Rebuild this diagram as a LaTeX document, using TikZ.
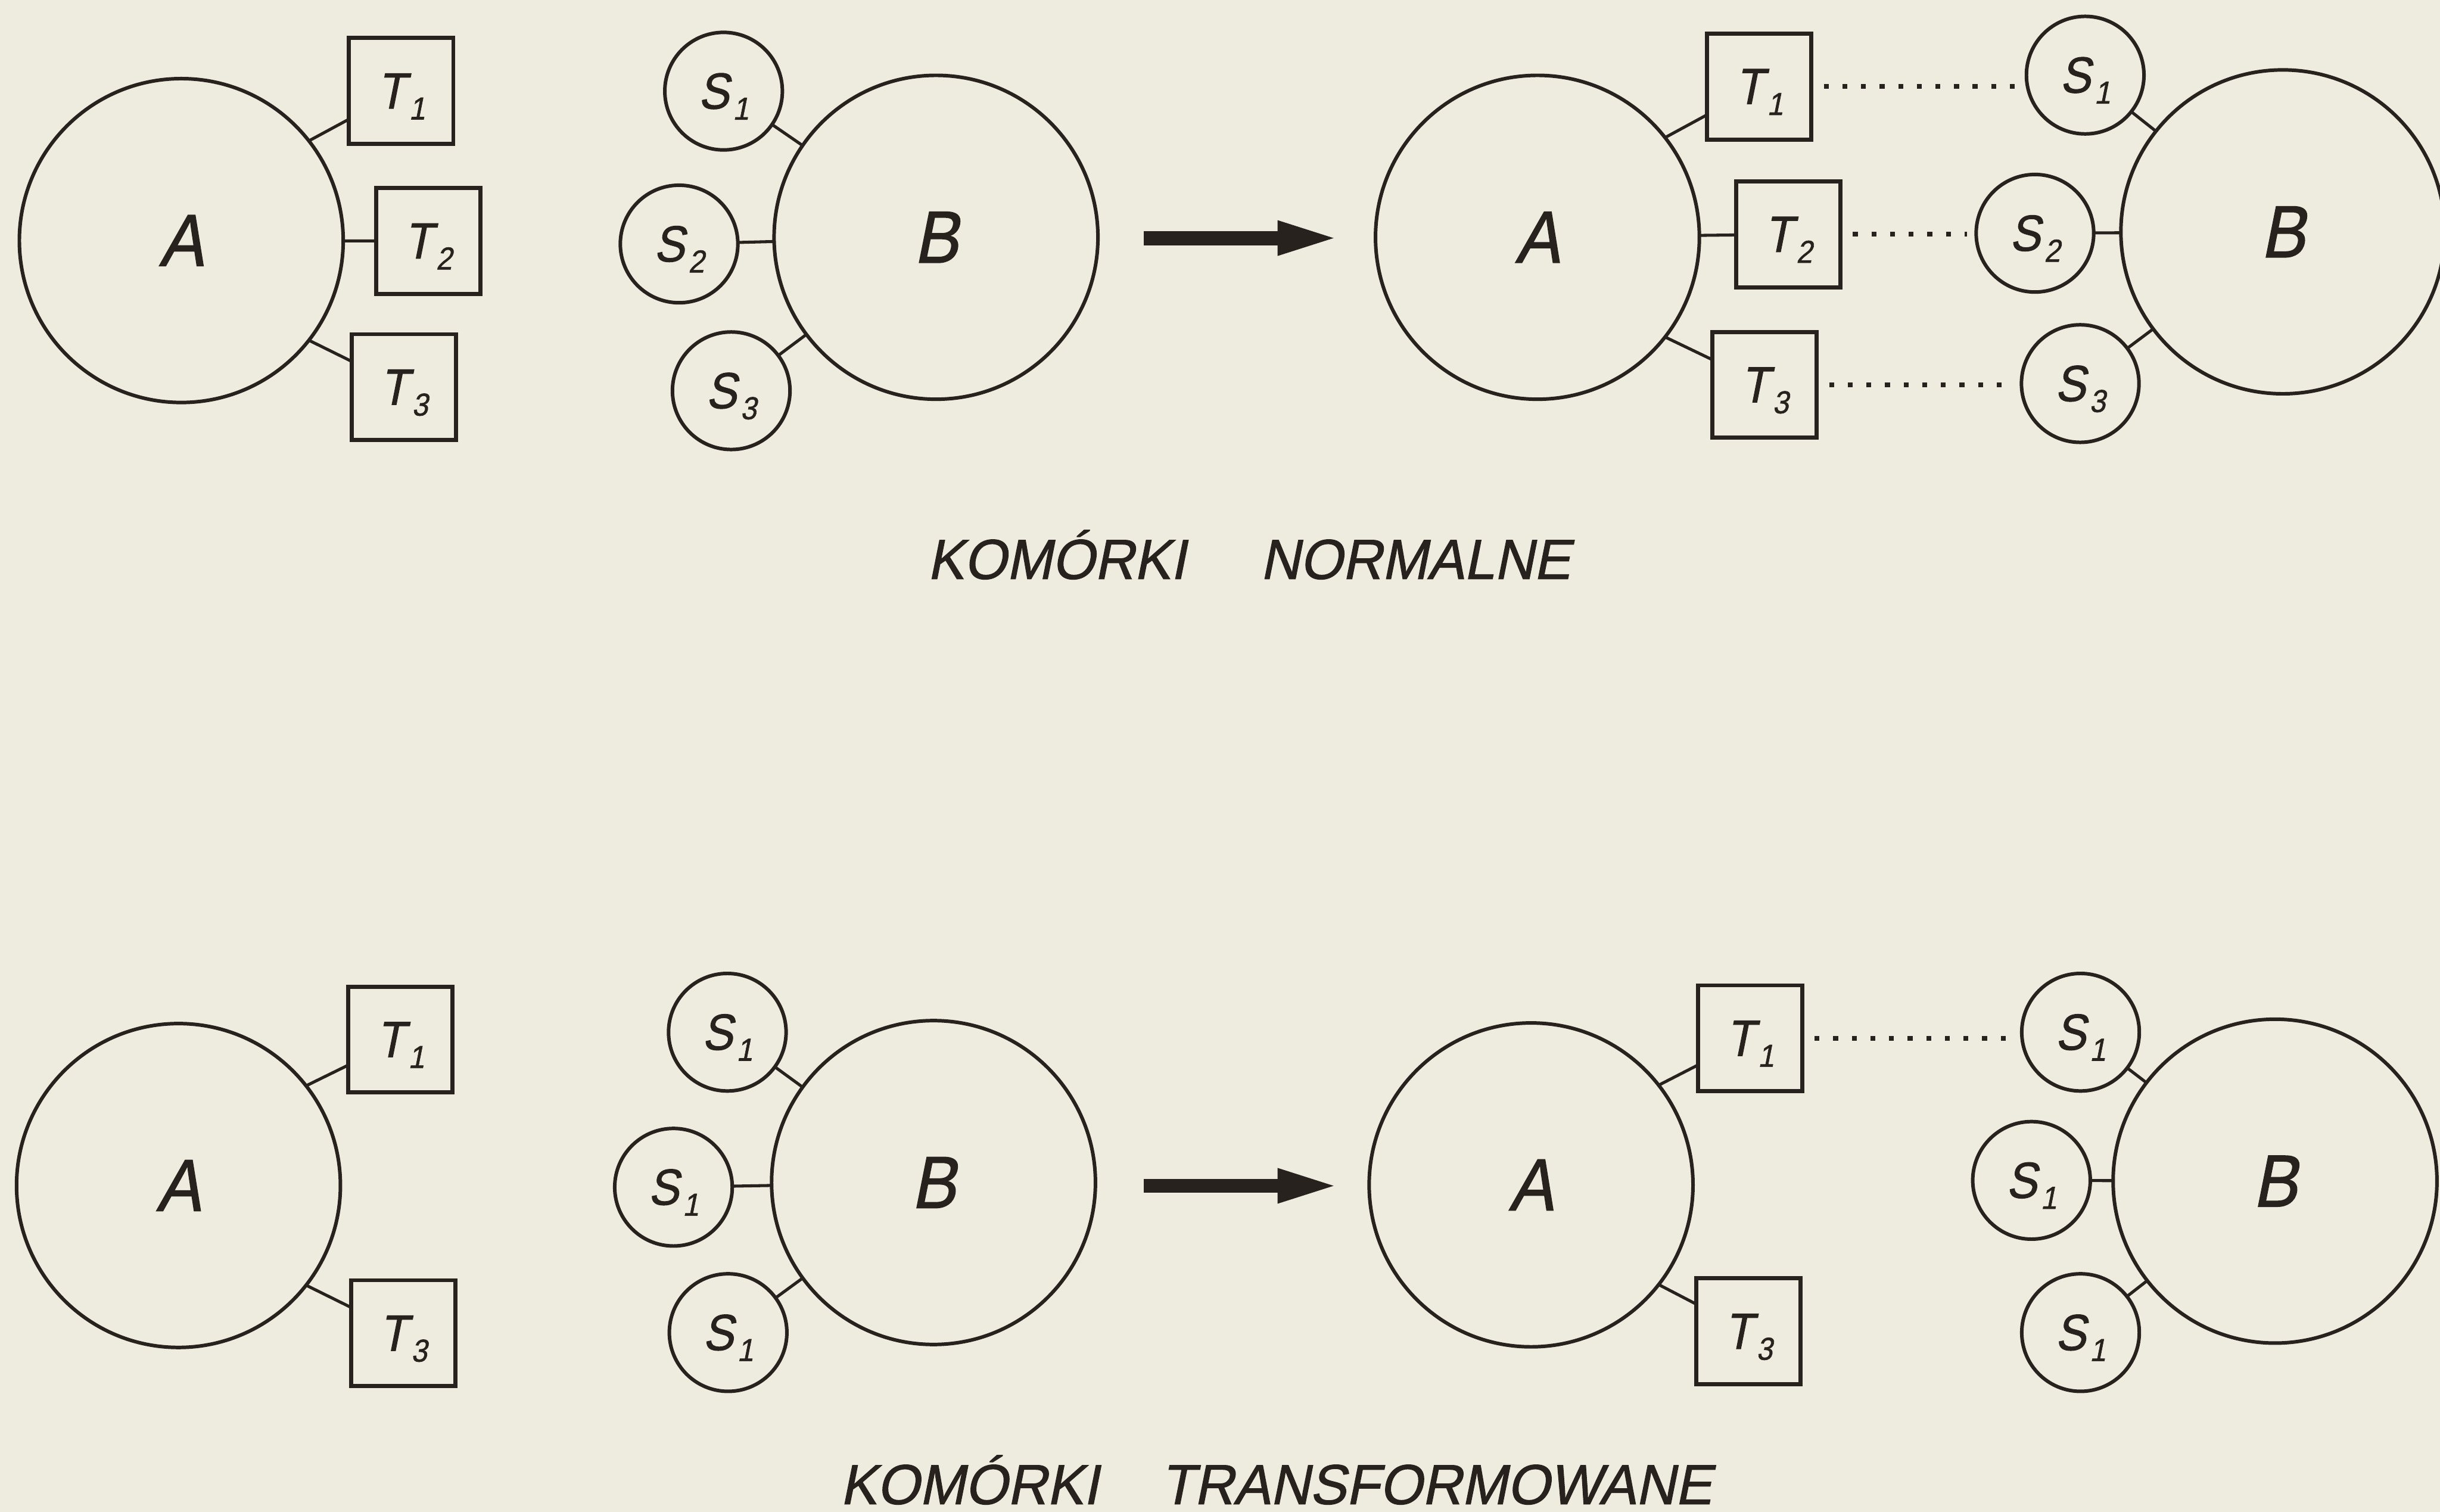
\documentclass[tikz,border=0pt]{standalone}
\usepackage{fontspec}
\setmainfont{Liberation Sans}
\newfontfamily\letfont{Liberation Sans}[FakeSlant=0.2,FakeStretch=0.9,FakeBold=1.2]
\newfontfamily\capfont{Liberation Sans}[FakeSlant=0.2,FakeStretch=0.97,FakeBold=1.2]
\usetikzlibrary{arrows.meta}
\definecolor{paper}{RGB}{238,236,222}
\definecolor{ink}{RGB}{40,34,30}
\newcommand{\sublab}[2]{#1\kern0.7pt\raisebox{-2pt}[0pt][0pt]{\fontsize{5.8pt}{6pt}\selectfont #2}}
\begin{document}
\begin{tikzpicture}[x=0.01cm,y=-0.01cm,
  every node/.style={inner sep=0pt, outer sep=0pt, text=ink},
  bigcell/.style={circle, draw=ink, line width=0.65pt, minimum size=2.08cm, font=\letfont\fontsize{13.5pt}{14pt}\selectfont},
  smallcell/.style={circle, draw=ink, line width=0.65pt, minimum size=0.755cm, font=\letfont\fontsize{9.3pt}{10pt}\selectfont},
  tbox/.style={rectangle, draw=ink, line width=0.75pt, minimum width=0.67cm, minimum height=0.68cm, font=\letfont\fontsize{9.3pt}{10pt}\selectfont},
  link/.style={draw=ink, line width=0.55pt},
  dotlink/.style={draw=ink, line width=0.85pt, dash pattern=on 0.9pt off 2.5pt, shorten <=0.08cm, shorten >=0.06cm},
  bigarrow/.style={draw=ink, line width=2.6pt, -{Triangle[length=3.6mm,width=2.3mm,line width=0pt]}},
  caption/.style={font=\capfont\fontsize{10.3pt}{12pt}\selectfont, anchor=base west}
]
\fill[paper] (0,0) rectangle (1568,971.6);
\useasboundingbox (0,0) rectangle (1568,971.6);

% ---- top left: normal cell A
\node[bigcell] (A1) at (116.5,154.6) {A};
\node[tbox] (T1a) at (257.8,58.5) {\sublab{T}{1}};
\node[tbox] (T2a) at (275.1,154.9) {\sublab{T}{2}};
\node[tbox] (T3a) at (259.6,248.8) {\sublab{T}{3}};
\draw[link] (A1.38) -- (T1a);
\draw[link] (A1) -- (T2a);
\draw[link] (A1.-38) -- (T3a);

% ---- top middle: normal cell B
\node[smallcell] (S1a) at (465,58.6) {\sublab{S}{1}};
\node[smallcell] (S2a) at (436.4,156.8) {\sublab{S}{2}};
\node[smallcell] (S3a) at (469.9,251.1) {\sublab{S}{3}};
\node[bigcell] (B1) at (601.5,152.5) {B};
\draw[link] (S1a) -- (B1);
\draw[link] (S2a) -- (B1);
\draw[link] (S3a) -- (B1);

% ---- top arrow
\coordinate (ar1s) at (735,153);
\coordinate (ar1e) at (857,153);
\draw[bigarrow] (ar1s) -- (ar1e);

% ---- top right: contact
\node[bigcell] (A2) at (988,152.5) {A};
\node[tbox] (T1b) at (1130.5,55.6) {\sublab{T}{1}};
\node[tbox] (T2b) at (1149.2,150.6) {\sublab{T}{2}};
\node[tbox] (T3b) at (1134,247.3) {\sublab{T}{3}};
\node[smallcell] (S1b) at (1340,48.3) {\sublab{S}{1}};
\node[smallcell] (S2b) at (1307.7,149.9) {\sublab{S}{2}};
\node[smallcell] (S3b) at (1336.8,246.5) {\sublab{S}{3}};
\node[bigcell] (B2) at (1467,149) {B};
\draw[link] (A2.38) -- (T1b);
\draw[link] (A2) -- (T2b);
\draw[link] (A2.-38) -- (T3b);
\draw[link] (S1b) -- (B2);
\draw[link] (S2b) -- (B2);
\draw[link] (S3b) -- (B2);
\draw[dotlink] (T1b.east) -- (T1b.east -| S1b.west);
\draw[dotlink] (T2b.east) -- (T2b.east -| S2b.west);
\draw[dotlink] (T3b.east) -- (T3b.east -| S3b.west);

\node[caption] (cap1) at (596,372) {KOMÓRKI\hspace{0.48cm}NORMALNE};

% ---- bottom left: transformed cell A
\node[bigcell] (A3) at (114.7,761.8) {A};
\node[tbox] (T1c) at (257.3,668) {\sublab{T}{1}};
\node[tbox] (T3c) at (259.1,856.7) {\sublab{T}{3}};
\draw[link] (A3.38) -- (T1c);
\draw[link] (A3.-38) -- (T3c);

% ---- bottom middle: transformed cell B
\node[smallcell] (S1c) at (467.4,663.3) {\sublab{S}{1}};
\node[smallcell] (S1d) at (432.8,762.9) {\sublab{S}{1}};
\node[smallcell] (S1e) at (467.9,856.3) {\sublab{S}{1}};
\node[bigcell] (B3) at (599.9,759.9) {B};
\draw[link] (S1c) -- (B3);
\draw[link] (S1d) -- (B3);
\draw[link] (S1e) -- (B3);

% ---- bottom arrow
\coordinate (ar2s) at (735,762);
\coordinate (ar2e) at (857,762);
\draw[bigarrow] (ar2s) -- (ar2e);

% ---- bottom right: contact
\node[bigcell] (A4) at (983.9,761.4) {A};
\node[tbox] (T1d) at (1124.6,667.2) {\sublab{T}{1}};
\node[tbox] (T3d) at (1123.6,855.5) {\sublab{T}{3}};
\node[smallcell] (S1f) at (1337,663.3) {\sublab{S}{1}};
\node[smallcell] (S1g) at (1305.5,758.5) {\sublab{S}{1}};
\node[smallcell] (S1h) at (1337,856.3) {\sublab{S}{1}};
\node[bigcell] (B4) at (1462,759) {B};
\draw[link] (A4.38) -- (T1d);
\draw[link] (A4.-38) -- (T3d);
\draw[link] (S1f) -- (B4);
\draw[link] (S1g) -- (B4);
\draw[link] (S1h) -- (B4);
\draw[dotlink] (T1d.east) -- (T1d.east -| S1f.west);

\node[caption] (cap2) at (540,966.5) {KOMÓRKI\hspace{0.40cm}TRANSFORMOWANE};
\end{tikzpicture}
\end{document}
